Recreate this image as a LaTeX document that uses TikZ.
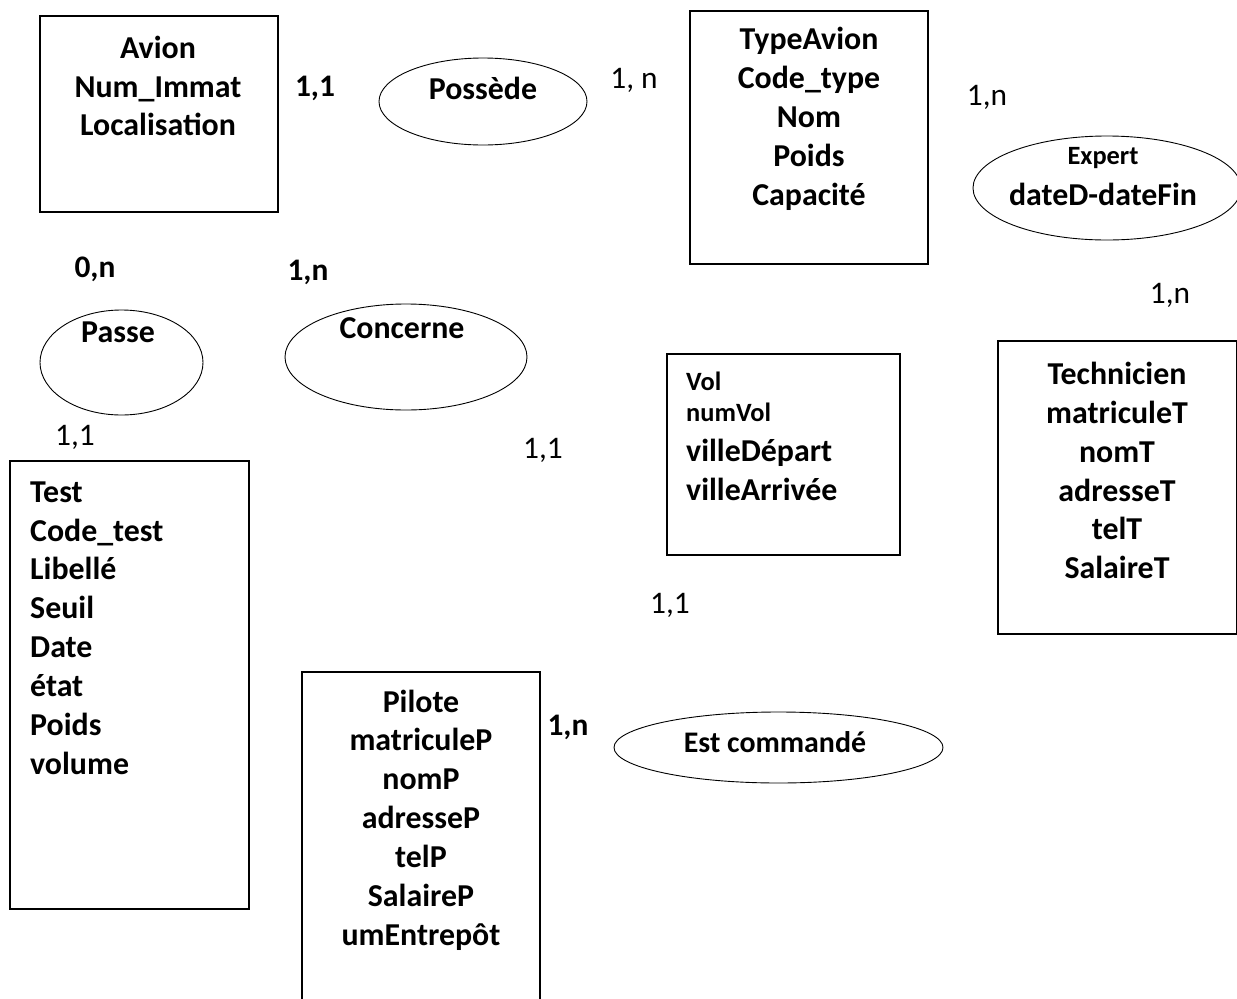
\documentclass[tikz,border=0pt]{standalone}
\usepackage{fontspec}
\setmainfont{Carlito}
\usetikzlibrary{shapes.geometric}
\tikzset{
  ent/.style={draw=black, line width=1.1bp, rectangle, inner sep=0pt},
  rel/.style={draw=black, line width=0.9bp, ellipse, inner sep=0pt},
  big/.style={inner sep=0pt, font=\fontsize{32}{39}\selectfont\bfseries},
  small/.style={inner sep=0pt, font=\fontsize{26.5}{31}\selectfont\bfseries},
  mid/.style={inner sep=0pt, font=\fontsize{30}{36}\selectfont\bfseries},
  card/.style={inner sep=0pt, font=\fontsize{31.5}{36}\selectfont},
  cardb/.style={inner sep=0pt, font=\fontsize{31.5}{36}\selectfont\bfseries},
}
\begin{document}
\begin{tikzpicture}[x=1bp,y=-1bp]
\useasboundingbox (0,0) rectangle (1237,999);
% entities
\node[ent, minimum width=238bp, minimum height=196bp] (avion) at (159,114) {};
\node[big, align=center] (avionT) at (158,86) {Avion\\Num\_Immat\\Localisation};

\node[ent, minimum width=238bp, minimum height=253bp] (typeavion) at (809,137.5) {};
\node[big, align=center] (typeavionT) at (809,119) {TypeAvion\\Code\_type\\Nom\\Poids\\Capacité};

\node[ent, minimum width=239bp, minimum height=293bp] (tech) at (1117.5,487.5) {};
\node[big, align=center] (techT) at (1117,470.5) {Technicien\\matriculeT\\nomT\\adresseT\\telT\\SalaireT};

\node[ent, minimum width=239bp, minimum height=448bp] (test) at (129.5,685) {};
\node[big, align=left, anchor=west] (testT) at (30,628) {Test\\Code\_test\\Libellé\\Seuil\\Date\\état\\Poids\\volume};

\node[ent, minimum width=233bp, minimum height=201bp] (vol) at (783.5,454.5) {};
\node[small, align=left, anchor=west] (volT1) at (686,396.5) {Vol\\numVol};
\node[big, align=left, anchor=west] (volT2) at (686,469.5) {villeDépart\\villeArrivée};

\node[ent, minimum width=238bp, minimum height=340bp] (pilote) at (421,842) {};
\node[big, align=center] (piloteT) at (421,820) {Pilote\\matriculeP\\nomP\\adresseP\\telP\\SalaireP\\umEntrepôt};

% associations
\node[rel, minimum width=208bp, minimum height=87bp] (possede) at (483,101.5) {};
\node[big] (possedeT) at (483,88) {Possède};

\node[rel, minimum width=268bp, minimum height=104bp] (expert) at (1107,188) {};
\node[small] (expertT) at (1103,158) {Expert};
\node[big] (expertT2) at (1103,194) {dateD-dateFin};

\node[rel, minimum width=163bp, minimum height=105bp] (passe) at (121.5,362.5) {};
\node[big] (passeT) at (118,332) {Passe};

\node[rel, minimum width=242bp, minimum height=106bp] (concerne) at (406,357) {};
\node[big] (concerneT) at (402,328) {Concerne};

\node[rel, minimum width=329bp, minimum height=71bp] (estcmd) at (778.5,747.5) {};
\node[mid] (estcmdT) at (775,742) {Est commandé};

% cardinalities
\node[cardb] (c1) at (315,88) {1,1};
\node[card] (c2) at (634,80) {1, n};
\node[card] (c3) at (987,97) {1,n};
\node[card] (c4) at (1170,295) {1,n};
\node[cardb] (c5) at (95,269) {0,n};
\node[cardb] (c6) at (308,272) {1,n};
\node[card] (c7) at (75,437) {1,1};
\node[card] (c8) at (543,450) {1,1};
\node[card] (c9) at (670,605) {1,1};
\node[cardb] (c10) at (568,727) {1,n};
\end{tikzpicture}
\end{document}
